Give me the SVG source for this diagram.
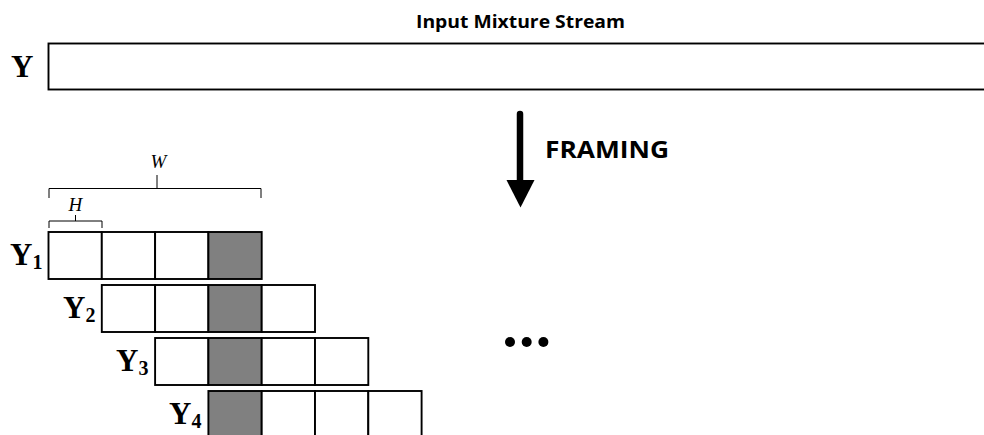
<svg xmlns="http://www.w3.org/2000/svg" width="984" height="435" viewBox="0 0 984 435">
<style>
.box{fill:#fff;stroke:#000;stroke-width:1.9}
.g{fill:#808080;stroke:#000;stroke-width:1.9}
.lbl{font-family:"Liberation Serif",serif;font-weight:bold;font-size:31px}
.sub{font-family:"Liberation Serif",serif;font-weight:bold;font-size:20px}
.it{font-family:"Liberation Serif",serif;font-style:italic;font-size:19px}
.br{fill:none;stroke:#000;stroke-width:1}
.sans{font-family:"Open Sans","Liberation Sans",sans-serif;font-weight:bold}
</style>
<rect width="984" height="435" fill="#fff"/>
<g id="title"><text class="sans" x="416" y="27.5" font-size="18" textLength="209" lengthAdjust="spacingAndGlyphs">Input Mixture Stream</text></g>
<g id="stream">
<text class="lbl" x="11" y="77" font-size="30">Y</text>
<rect class="box" x="48.5" y="43.5" width="940" height="46"/>
</g>
<g id="connectors">
<path d="M520 114 V184" stroke="#000" stroke-width="6.5" stroke-linecap="round"/>
<polygon points="506.5,180 534.5,180 520.5,207.5" fill="#000"/>
</g>
<g id="framing"><text class="sans" x="545" y="158" font-size="23" textLength="124" lengthAdjust="spacingAndGlyphs">FRAMING</text></g>
<g id="brackets">
<path class="br" d="M49 198 V188.5 H261 V198 M157 188.5 V175"/>
<text class="it" x="150.5" y="168">W</text>
<path class="br" d="M49 228 V221 H102 V228 M75.5 221 V215"/>
<text class="it" x="68.5" y="211">H</text>
</g>
<g id="frame1">
<text class="lbl" x="10" y="265">Y<tspan class="sub" dy="4">1</tspan></text>
<rect class="box" x="48.5" y="232" width="53.3" height="47"/>
<rect class="box" x="101.8" y="232" width="53.3" height="47"/>
<rect class="box" x="155.1" y="232" width="53.3" height="47"/>
<rect class="g" x="208.4" y="232" width="53.3" height="47"/>
</g>
<g id="frame2">
<text class="lbl" x="63" y="318">Y<tspan class="sub" dy="4">2</tspan></text>
<rect class="box" x="101.8" y="285" width="53.3" height="47"/>
<rect class="box" x="155.1" y="285" width="53.3" height="47"/>
<rect class="g" x="208.4" y="285" width="53.3" height="47"/>
<rect class="box" x="261.7" y="285" width="53.3" height="47"/>
</g>
<g id="frame3">
<text class="lbl" x="116" y="371">Y<tspan class="sub" dy="4">3</tspan></text>
<rect class="box" x="155.1" y="338" width="53.3" height="47"/>
<rect class="g" x="208.4" y="338" width="53.3" height="47"/>
<rect class="box" x="261.7" y="338" width="53.3" height="47"/>
<rect class="box" x="315" y="338" width="53.3" height="47"/>
</g>
<g id="frame4">
<text class="lbl" x="169" y="424">Y<tspan class="sub" dy="4">4</tspan></text>
<rect class="g" x="208.4" y="391" width="53.3" height="47"/>
<rect class="box" x="261.7" y="391" width="53.3" height="47"/>
<rect class="box" x="315" y="391" width="53.3" height="47"/>
<rect class="box" x="368.3" y="391" width="53.3" height="47"/>
</g>
<g id="ellipsis">
<circle cx="510" cy="342" r="5"/>
<circle cx="526.7" cy="342" r="5"/>
<circle cx="543.4" cy="342" r="5"/>
</g>
</svg>
